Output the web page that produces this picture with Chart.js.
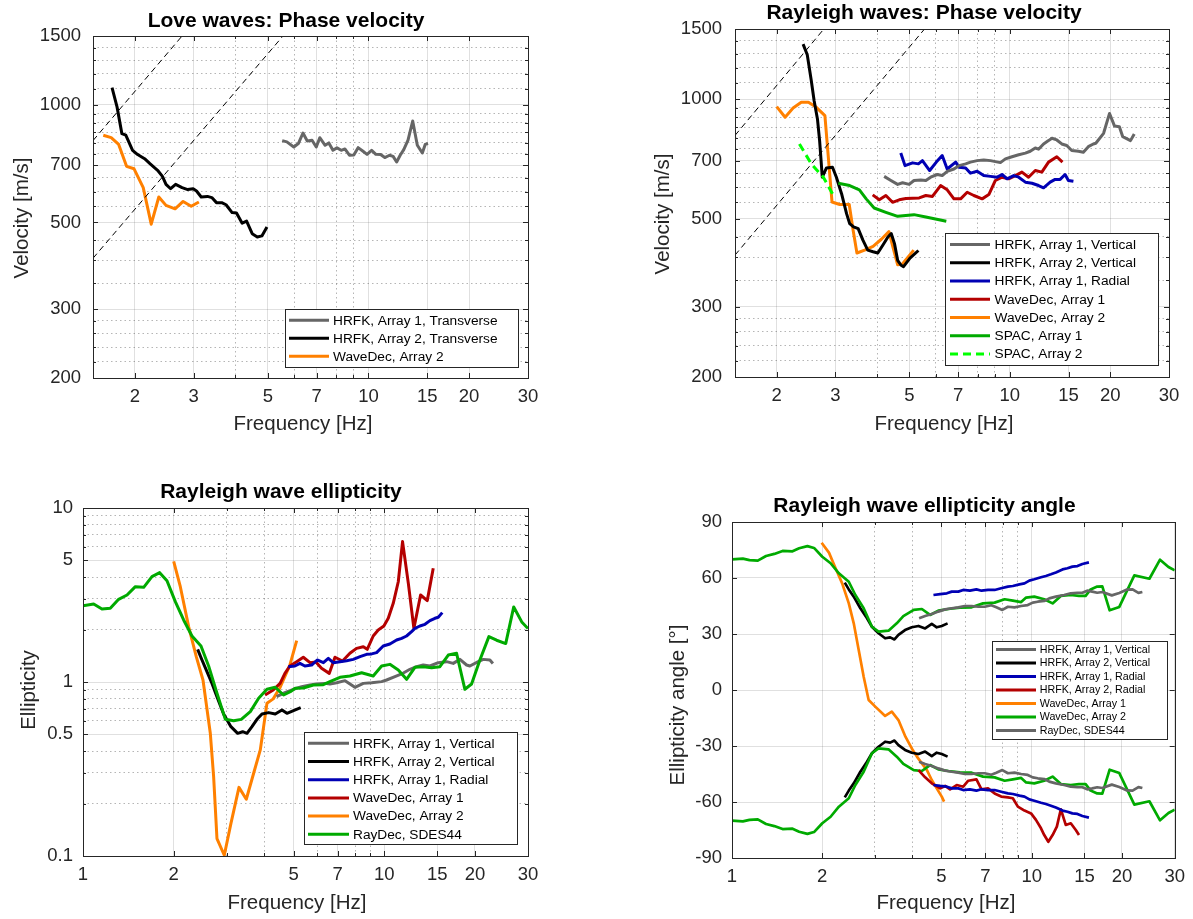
<!DOCTYPE html>
<html>
<head>
<meta charset="utf-8">
<title>Dispersion curves and ellipticity</title>
<script src="https://cdn.jsdelivr.net/npm/chart.js@4.4.1/dist/chart.umd.min.js"></script>
<style>
  html, body { margin: 0; padding: 0; background: #fff; }
  #page { position: relative; width: 1193px; height: 919px; overflow: hidden; background: #fff; }
  #page canvas { position: absolute; }
</style>
</head>
<body>
<div id="page"></div>
<script>
// ---- DATA ----

// Axis ticks
const freqTicksA = [2, 3, 5, 7, 10, 15, 20, 30];
const freqMinorA = [4, 6, 8, 9];
const freqTicksB = [1, 2, 5, 7, 10, 15, 20, 30];
const freqMinorB = [3, 4, 6, 8, 9];
const velTicks = [200, 300, 500, 700, 1000, 1500];
const velMinor = [220, 240, 260, 280, 350, 400, 450, 550, 600, 650, 750, 800, 850, 900, 950, 1100, 1200, 1300, 1400];
const ellTicks = [0.1, 0.5, 1, 5, 10];
const ellMinor = [0.2, 0.3, 0.4, 0.6, 0.7, 0.8, 0.9, 2, 3, 4, 6, 7, 8, 9];
const angTicks = [-90, -60, -30, 0, 30, 60, 90];

// Array resolution limits (dashed guide lines)
const guideAF = [1.5, 2.77];
const guideAV = [810, 1500];
const guideBF = [1.5, 5.55];
const guideBV = [405, 1500];

// Love waves: phase velocity
const loveHrfk1F = [5.52, 5.70, 5.98, 6.17, 6.37, 6.56, 6.78, 6.98, 7.15, 7.42, 7.61, 7.83, 8.05, 8.29, 8.50, 8.77, 9.04, 9.31, 9.61, 9.90, 10.22, 10.52, 10.87, 11.19, 11.56, 11.85, 12.14, 12.44, 12.75, 13.13, 13.56, 14.00, 14.49, 14.78, 15.07];
const loveHrfk1V = [810, 804, 780, 796, 847, 808, 812, 780, 824, 788, 799, 765, 776, 765, 771, 743, 744, 777, 762, 747, 765, 747, 746, 733, 743, 738, 714, 743, 768, 812, 909, 788, 753, 792, 796];
const loveHrfk2F = [1.71, 1.77, 1.83, 1.88, 1.97, 2.04, 2.14, 2.22, 2.34, 2.42, 2.48, 2.56, 2.65, 2.77, 2.88, 2.99, 3.06, 3.16, 3.30, 3.40, 3.51, 3.64, 3.75, 3.91, 4.03, 4.19, 4.32, 4.49, 4.65, 4.80, 4.97];
const loveHrfk2V = [1107, 988, 844, 836, 765, 746, 728, 707, 680, 656, 626, 610, 626, 614, 607, 610, 602, 581, 583, 579, 562, 562, 555, 530, 529, 498, 504, 468, 459, 462, 487];
const loveWdec2F = [1.61, 1.70, 1.79, 1.89, 1.99, 2.12, 2.24, 2.36, 2.48, 2.64, 2.79, 2.95, 3.11];
const loveWdec2V = [836, 824, 792, 696, 686, 614, 495, 581, 553, 542, 566, 550, 564];
const loveLegend = ['HRFK, Array 1, Transverse', 'HRFK, Array 2, Transverse', 'WaveDec, Array 2'];

// Rayleigh waves: phase velocity
const rayHrfk1VertF = [4.20, 4.40, 4.61, 4.77, 4.99, 5.16, 5.41, 5.60, 5.79, 6.06, 6.27, 6.49, 6.80, 7.04, 7.37, 7.62, 7.98, 8.35, 8.75, 9.05, 9.37, 9.70, 10.15, 10.63, 11.13, 11.51, 11.92, 12.19, 12.62, 13.06, 13.37, 13.83, 14.31, 14.81, 15.33, 16.05, 16.61, 17.19, 17.79, 18.1, 19.1, 19.9, 20.6, 21.3, 21.8, 23.0, 23.6];
const rayHrfk1VertV = [639, 624, 610, 616, 610, 624, 626, 624, 636, 646, 642, 658, 667, 680, 687, 694, 700, 703, 700, 696, 692, 707, 716, 724, 731, 739, 753, 748, 771, 786, 797, 789, 771, 764, 742, 739, 735, 759, 771, 774, 820, 920, 855, 852, 804, 786, 817];
const rayHrfk2VertF = [2.40, 2.47, 2.54, 2.59, 2.65, 2.69, 2.74, 2.82, 2.94, 3.02, 3.13, 3.24, 3.31, 3.40, 3.51, 3.63, 3.75, 3.89, 4.02, 4.16, 4.31, 4.41, 4.51, 4.61, 4.72, 4.80, 5.02, 5.32];
const rayHrfk2VertV = [1374, 1292, 1112, 990, 891, 786, 636, 671, 674, 636, 578, 515, 486, 477, 472, 441, 417, 413, 410, 429, 450, 459, 433, 393, 382, 379, 398, 416];
const rayHrfk1RadF = [4.71, 4.85, 5.11, 5.32, 5.47, 5.75, 6.02, 6.27, 6.49, 6.88, 7.04, 7.37, 7.62, 7.98, 8.35, 8.75, 9.16, 9.48, 9.81, 10.27, 10.63, 11.13, 11.65, 12.19, 12.62, 13.21, 13.67, 14.15, 14.64, 14.98, 15.51];
const rayHrfk1RadV = [732, 680, 691, 687, 700, 661, 694, 721, 667, 694, 674, 671, 651, 658, 642, 639, 636, 646, 630, 642, 636, 618, 614, 606, 598, 618, 628, 628, 646, 624, 621];
const rayWdec1F = [3.88, 4.06, 4.25, 4.45, 4.66, 4.88, 5.11, 5.35, 5.60, 5.86, 6.20, 6.49, 6.80, 7.12, 7.45, 7.80, 8.26, 8.65, 9.05, 9.48, 9.92, 10.39, 10.87, 11.38, 11.92, 12.47, 13.06, 13.83, 14.38];
const rayWdec1V = [574, 558, 572, 550, 558, 562, 563, 564, 572, 569, 606, 591, 561, 561, 583, 572, 561, 575, 624, 636, 630, 642, 655, 636, 661, 655, 694, 716, 694];
const rayWdec2F = [2.00, 2.12, 2.24, 2.37, 2.49, 2.63, 2.79, 2.93, 3.09, 3.30, 3.39, 3.48, 3.67, 3.89, 4.12, 4.34, 4.46, 4.61, 4.75, 5.15];
const rayWdec2V = [957, 900, 949, 981, 981, 953, 908, 551, 543, 543, 468, 410, 417, 426, 444, 464, 425, 383, 384, 417];
const raySpac1F = [3.06, 3.31, 3.54, 3.71, 3.92, 4.25, 4.61, 5.16, 5.60, 6.45];
const raySpac1V = [614, 606, 591, 561, 532, 519, 507, 512, 505, 493];
const raySpac2F = [2.34, 2.54, 2.76, 2.94];
const raySpac2V = [771, 687, 636, 578];
const rayLegend = ['HRFK, Array 1, Vertical', 'HRFK, Array 2, Vertical', 'HRFK, Array 1, Radial', 'WaveDec, Array 1', 'WaveDec, Array 2', 'SPAC, Array 1', 'SPAC, Array 2'];

// Rayleigh wave ellipticity
const ellHrfk1VertF = [4.39, 4.68, 4.99, 5.32, 5.67, 5.96, 6.36, 6.60, 6.95, 7.41, 7.99, 8.52, 9.08, 9.80, 10.18, 10.85, 11.42, 12.17, 12.80, 13.47, 14.18, 15.11, 16.10, 16.94, 17.83, 18.76, 19.24, 20.51, 21.31, 22.42, 22.94];
const ellHrfk1VertV = [0.823, 0.868, 0.908, 0.940, 0.961, 0.974, 0.982, 0.974, 0.991, 1.018, 0.932, 0.982, 0.991, 1.005, 1.027, 1.073, 1.112, 1.183, 1.225, 1.252, 1.236, 1.291, 1.309, 1.279, 1.349, 1.252, 1.236, 1.309, 1.349, 1.338, 1.279];
const ellHrfk2VertF = [2.402, 2.483, 2.579, 2.680, 2.784, 2.929, 3.098, 3.261, 3.388, 3.502, 3.638, 3.780, 3.927, 4.132, 4.347, 4.575, 4.753, 5.066, 5.28];
const ellHrfk2VertV = [1.541, 1.338, 1.147, 0.982, 0.823, 0.655, 0.554, 0.507, 0.518, 0.507, 0.554, 0.610, 0.655, 0.667, 0.655, 0.691, 0.661, 0.691, 0.712];
const ellHrfk1RadF = [4.80, 5.05, 5.25, 5.45, 5.74, 5.99, 6.28, 6.52, 6.77, 7.13, 7.50, 7.89, 8.31, 8.74, 9.08, 9.43, 9.92, 10.44, 10.99, 11.42, 11.86, 12.32, 12.64, 13.13, 13.65, 14.18, 14.73, 15.11, 15.58];
const ellHrfk1RadV = [1.225, 1.236, 1.279, 1.236, 1.252, 1.338, 1.291, 1.368, 1.291, 1.309, 1.326, 1.349, 1.398, 1.442, 1.45, 1.475, 1.61, 1.654, 1.743, 1.782, 1.838, 1.946, 2.034, 2.098, 2.145, 2.252, 2.323, 2.354, 2.505];
const ellWdec1F = [4.02, 4.28, 4.51, 4.68, 4.86, 5.12, 5.385, 5.67, 5.93, 6.19, 6.57, 6.86, 7.27, 7.69, 8.09, 8.52, 8.78, 9.19, 9.55, 9.97, 10.31, 10.71, 11.13, 11.50, 12.02, 12.54, 13.20, 13.89, 14.54];
const ellWdec1V = [0.842, 0.900, 0.982, 1.121, 1.236, 1.309, 1.387, 1.291, 1.303, 1.199, 1.121, 1.387, 1.320, 1.462, 1.561, 1.596, 1.541, 1.838, 1.99, 2.098, 2.323, 2.832, 3.77, 6.41, 3.69, 2.034, 3.162, 2.935, 4.50];
const ellWdec2F = [2.0, 2.104, 2.242, 2.377, 2.502, 2.646, 2.714, 2.784, 2.944, 3.098, 3.294, 3.484, 3.685, 3.877, 4.079, 4.28, 4.51, 4.86, 5.12];
const ellWdec2V = [4.94, 3.53, 2.08, 1.398, 1.027, 0.507, 0.286, 0.126, 0.101, 0.154, 0.248, 0.212, 0.299, 0.407, 0.754, 0.80, 0.93, 1.25, 1.728];
const ellRaydecF = [1.0, 1.085, 1.156, 1.232, 1.313, 1.400, 1.492, 1.590, 1.694, 1.797, 1.900, 2.025, 2.158, 2.300, 2.464, 2.612, 2.784, 2.968, 3.162, 3.353, 3.592, 3.828, 4.079, 4.347, 4.634, 4.876, 5.066, 5.385, 5.813, 6.275, 6.600, 7.127, 7.692, 8.41, 9.19, 9.80, 10.44, 11.13, 11.86, 12.64, 13.47, 14.36, 15.30, 16.31, 17.38, 18.52, 19.49, 20.77, 22.25, 23.6, 25.3, 26.9, 28.6, 30.0];
const ellRaydecV = [2.746, 2.807, 2.628, 2.652, 2.987, 3.162, 3.531, 3.50, 4.03, 4.25, 3.82, 2.895, 2.272, 1.838, 1.61, 1.236, 0.861, 0.610, 0.599, 0.610, 0.676, 0.806, 0.908, 0.932, 0.842, 0.880, 0.920, 0.924, 0.961, 0.965, 1.005, 1.064, 1.083, 1.131, 1.083, 1.236, 1.263, 1.172, 1.036, 1.214, 1.225, 1.209, 1.225, 1.428, 1.462, 0.908, 0.974, 1.338, 1.823, 1.738, 1.663, 2.70, 2.215, 2.028];
const ellLegend = ['HRFK, Array 1, Vertical', 'HRFK, Array 2, Vertical', 'HRFK, Array 1, Radial', 'WaveDec, Array 1', 'WaveDec, Array 2', 'RayDec, SDES44'];

// Rayleigh wave ellipticity angle (prograde and retrograde branches)
const angGreenF = [1.0, 1.087, 1.144, 1.219, 1.299, 1.384, 1.475, 1.592, 1.675, 1.785, 1.878, 2.001, 2.133, 2.273, 2.453, 2.580, 2.750, 2.930, 3.083, 3.328, 3.546, 3.730, 4.04, 4.30, 4.58, 4.88, 5.27, 5.76, 6.30, 6.88, 7.52, 8.12, 8.65, 9.22, 9.58, 10.20, 11.01, 11.74, 12.51, 13.50, 14.38, 15.13, 15.72, 16.54, 17.2, 18.2, 19.6, 22.0, 24.7, 26.8, 28.6, 30.0];
const angGreenUp = [70.0, 70.4, 69.6, 69.3, 71.8, 72.9, 74.5, 74.3, 75.9, 77.1, 76.1, 71.4, 67.9, 62.5, 58.0, 50.9, 43.8, 33.9, 31.3, 31.8, 35.7, 39.6, 42.9, 43.4, 40.2, 42.5, 43.4, 44.1, 44.3, 46.4, 46.8, 48.6, 47.9, 47.1, 49.5, 50.0, 48.6, 46.4, 50.4, 50.9, 50.4, 50.4, 53.9, 55.4, 55.5, 42.7, 44.5, 61.4, 59.6, 69.8, 65.9, 64.1];
const angGreenLo = [-70.0, -70.4, -69.6, -69.3, -71.8, -72.9, -74.5, -74.3, -75.9, -77.1, -76.1, -71.4, -67.9, -62.5, -58.0, -50.9, -43.8, -33.9, -31.3, -31.8, -35.7, -39.6, -42.9, -43.4, -40.2, -42.5, -43.4, -44.1, -44.3, -46.4, -46.8, -48.6, -47.9, -47.1, -49.5, -50.0, -48.6, -46.4, -50.4, -50.9, -50.4, -50.4, -53.9, -55.4, -55.5, -42.7, -44.5, -61.4, -59.6, -69.8, -65.9, -64.1];
const angBlackF = [2.378, 2.453, 2.548, 2.681, 2.80, 2.93, 3.083, 3.243, 3.371, 3.484, 3.592, 3.778, 3.98, 4.19, 4.41, 4.64, 4.82, 5.01, 5.24];
const angBlackUp = [57.5, 53.9, 50.0, 43.8, 39.3, 33.9, 30.4, 27.7, 28.2, 27.1, 29.5, 32.1, 33.6, 34.3, 33.0, 35.4, 33.6, 34.3, 35.7];
const angBlackLo = [-57.5, -53.9, -50.0, -43.8, -39.3, -33.9, -30.4, -27.7, -28.2, -27.1, -29.5, -32.1, -33.6, -34.3, -33.0, -35.4, -33.6, -34.3, -35.7];
const angGrayF = [4.21, 4.41, 4.64, 4.88, 5.14, 5.41, 5.69, 5.98, 6.30, 6.63, 6.97, 7.33, 7.62, 7.98, 8.33, 8.76, 9.22, 9.70, 10.08, 10.47, 11.01, 11.44, 12.04, 12.83, 13.50, 14.21, 14.76, 15.32, 15.92, 16.54, 17.2, 18.5, 19.6, 20.8, 21.7, 22.7, 23.4];
const angGrayUp = [38.4, 39.6, 40.7, 42.0, 43.2, 43.8, 44.3, 45.0, 45.0, 44.6, 44.6, 45.4, 44.3, 42.9, 44.6, 44.3, 45.0, 45.5, 46.8, 47.3, 47.7, 49.1, 50.0, 50.9, 51.8, 52.1, 52.1, 53.2, 52.7, 52.1, 52.5, 50.7, 52.0, 53.8, 53.9, 52.0, 52.5];
const angGrayLo = [-38.4, -39.6, -40.7, -42.0, -43.2, -43.8, -44.3, -45.0, -45.0, -44.6, -44.6, -45.4, -44.3, -42.9, -44.6, -44.3, -45.0, -45.5, -46.8, -47.3, -47.7, -49.1, -50.0, -50.9, -51.8, -52.1, -52.1, -53.2, -52.7, -52.1, -52.5, -50.7, -52.0, -53.8, -53.9, -52.0, -52.5];
const angBlueF = [4.70, 4.95, 5.21, 5.41, 5.69, 5.91, 6.22, 6.54, 6.80, 7.15, 7.52, 7.91, 8.33, 8.65, 9.10, 9.46, 9.82, 10.20, 10.74, 11.15, 11.59, 12.04, 12.67, 13.16, 13.67, 14.21, 14.76, 15.52];
const angBlueUp = [50.9, 51.4, 51.8, 52.7, 52.7, 53.6, 53.2, 53.9, 53.2, 53.6, 53.6, 54.5, 55.4, 55.7, 56.6, 57.1, 58.6, 59.3, 60.4, 61.1, 62.0, 63.0, 64.6, 65.2, 66.1, 66.4, 67.5, 68.4];
const angBlueLo = [-50.9, -51.4, -51.8, -52.7, -52.7, -53.6, -53.2, -53.9, -53.2, -53.6, -53.6, -54.5, -55.4, -55.7, -56.6, -57.1, -58.6, -59.3, -60.4, -61.1, -62.0, -63.0, -64.6, -65.2, -66.1, -66.4, -67.5, -68.4];
const angRedF = [4.19, 4.41, 4.64, 4.95, 5.14, 5.34, 5.62, 5.91, 6.14, 6.54, 6.80, 7.15, 7.52, 7.91, 8.33, 8.65, 8.99, 9.46, 9.95, 10.33, 10.74, 11.01, 11.36, 11.74, 12.13, 12.51, 12.99, 13.50, 14.03, 14.38];
const angRedV = [-42.9, -46.8, -50.0, -52.7, -51.4, -53.2, -50.9, -51.8, -48.6, -47.9, -53.2, -52.7, -55.4, -57.1, -57.5, -58.0, -62.5, -64.6, -66.1, -69.6, -74.1, -77.7, -81.3, -77.7, -73.2, -63.9, -72.3, -71.4, -75.0, -77.7];
const angOrangeF = [1.991, 2.106, 2.216, 2.331, 2.453, 2.548, 2.647, 2.750, 2.857, 3.006, 3.243, 3.413, 3.592, 3.79, 3.98, 4.14, 4.30, 4.47, 4.64, 4.82, 5.01, 5.10];
const angOrangeV = [78.9, 73.6, 65.2, 57.1, 46.4, 35.7, 21.4, 7.1, -5.4, -8.9, -13.9, -11.6, -16.1, -25.0, -31.3, -35.7, -39.3, -42.9, -48.2, -52.7, -57.1, -59.8];
const angLegend = ['HRFK, Array 1, Vertical', 'HRFK, Array 2, Vertical', 'HRFK, Array 1, Radial', 'HRFK, Array 2, Radial', 'WaveDec, Array 1', 'WaveDec, Array 2', 'RayDec, SDES44'];

// ---- STYLE ----
const COL = { gray: '#666666', black: '#000000', blue: '#0000b4', red: '#b40000', orange: '#ff8000', green: '#00aa00', lime: '#00ff00' };
const FONT = '"Liberation Sans", Arial, Helvetica, sans-serif';
const TICK_COLOR = '#262626';
const MAJ_GRID = 'rgba(38,38,38,0.14)';
const MIN_GRID = 'rgba(38,38,38,0.34)';

function logAxis(min, max, major, minor, pad) {
  const all = [...new Set(major.concat(minor))].sort((a, b) => a - b);
  return {
    type: 'logarithmic', min, max,
    afterBuildTicks: s => { s.ticks = all.map(v => ({ value: v, major: major.includes(v) })); },
    ticks: {
      autoSkip: false, maxRotation: 0, minRotation: 0, padding: pad, color: TICK_COLOR,
      font: { family: FONT, size: 18.5 },
      callback: v => (major.includes(v) ? String(v) : '')
    },
    grid: { drawTicks: false, lineWidth: 1, color: c => (c.tick && c.tick.major ? MAJ_GRID : MIN_GRID) },
    border: { display: false, dash: c => (c.tick && c.tick.major ? [] : [1.5, 3]) }
  };
}

function linAxis(min, max, ticks, pad) {
  return {
    type: 'linear', min, max,
    afterBuildTicks: s => { s.ticks = ticks.map(v => ({ value: v, major: true })); },
    ticks: { autoSkip: false, padding: pad, color: TICK_COLOR, font: { family: FONT, size: 18.5 }, callback: v => String(v) },
    grid: { drawTicks: false, lineWidth: 1, color: MAJ_GRID },
    border: { display: false }
  };
}

function line(xs, ys, color, width, dash) {
  return {
    data: xs.map((x, i) => ({ x, y: ys[i] })),
    borderColor: color, backgroundColor: color, borderWidth: width,
    borderDash: dash || [], borderJoinStyle: 'round', pointRadius: 0, tension: 0, fill: false
  };
}

// frame, inner tick marks, titles and the boxed legend
function makeDecor(box, texts, legend) {
  return {
    id: 'decor',
    afterDatasetsDraw(chart) {
      const { ctx, chartArea: a, scales } = chart;
      ctx.save();
      ctx.strokeStyle = '#262626';
      ctx.lineWidth = 1;
      ctx.setLineDash([]);
      ctx.beginPath();
      scales.x.ticks.forEach(t => {
        const p = Math.round(scales.x.getPixelForValue(t.value)) + 0.5;
        const L = t.major === false ? 3 : 5;
        ctx.moveTo(p, a.bottom); ctx.lineTo(p, a.bottom - L);
        ctx.moveTo(p, a.top); ctx.lineTo(p, a.top + L);
      });
      scales.y.ticks.forEach(t => {
        const p = Math.round(scales.y.getPixelForValue(t.value)) + 0.5;
        const L = t.major === false ? 3 : 5;
        ctx.moveTo(a.left, p); ctx.lineTo(a.left + L, p);
        ctx.moveTo(a.right, p); ctx.lineTo(a.right - L, p);
      });
      ctx.stroke();
      ctx.strokeRect(Math.round(a.left) + 0.5, Math.round(a.top) + 0.5, Math.round(a.width), Math.round(a.height));
      ctx.restore();
    },
    afterDraw(chart) {
      const ctx = chart.ctx;
      ctx.save();
      texts.forEach(t => {
        ctx.save();
        ctx.font = t.font;
        ctx.fillStyle = t.color || '#000';
        ctx.textAlign = 'center';
        ctx.textBaseline = 'alphabetic';
        ctx.translate(t.x - box.x, t.y - box.y);
        if (t.rot) ctx.rotate(-Math.PI / 2);
        ctx.fillText(t.text, 0, 0);
        ctx.restore();
      });
      const L = legend;
      ctx.fillStyle = '#fff';
      ctx.fillRect(L.x - box.x, L.y - box.y, L.w, L.h);
      ctx.strokeStyle = '#262626';
      ctx.lineWidth = 1;
      ctx.strokeRect(L.x - box.x + 0.5, L.y - box.y + 0.5, L.w, L.h);
      ctx.font = L.font;
      ctx.textAlign = 'left';
      ctx.textBaseline = 'middle';
      L.labels.forEach((lab, i) => {
        const y = L.row0 + i * L.step - box.y;
        ctx.strokeStyle = L.colors[i];
        ctx.lineWidth = L.lw;
        ctx.setLineDash(L.dashes && L.dashes[i] ? L.dashes[i] : []);
        ctx.beginPath();
        ctx.moveTo(L.sx0 - box.x, y);
        ctx.lineTo(L.sx1 - box.x, y);
        ctx.stroke();
        ctx.setLineDash([]);
        ctx.fillStyle = '#000';
        ctx.fillText(lab, L.tx - box.x, y + 0.5);
      });
      ctx.restore();
    }
  };
}

function panel(box, plot, xAxis, yAxis, datasets, texts, legend) {
  const cv = document.createElement('canvas');
  cv.width = box.w; cv.height = box.h;
  cv.style.left = box.x + 'px'; cv.style.top = box.y + 'px';
  document.getElementById('page').appendChild(cv);
  xAxis.afterFit = s => { s.height = box.y + box.h - plot.b; };
  yAxis.afterFit = s => { s.width = plot.l - box.x; };
  return new Chart(cv, {
    type: 'line',
    data: { datasets },
    options: {
      responsive: false, animation: false, events: [],
      layout: { padding: { left: 0, bottom: 0, top: plot.t - box.y, right: box.x + box.w - plot.r } },
      scales: { x: xAxis, y: yAxis },
      plugins: { legend: { display: false }, tooltip: { enabled: false }, title: { display: false } }
    },
    plugins: [makeDecor(box, texts, legend)]
  });
}

const TITLE_FONT = 'bold 21px ' + FONT;
const LABEL_FONT = '20.5px ' + FONT;
const LW = 3;

// ---- Panel 1: Love waves ----
panel({ x: 0, y: 0, w: 596, h: 460 }, { l: 93, t: 36, r: 528, b: 378 },
  logAxis(1.5, 30, freqTicksA, freqMinorA, 8),
  logAxis(200, 1500, velTicks, velMinor, 12),
  [
    line(guideAF, guideAV, '#000', 1, [6, 4]),
    line(guideBF, guideBV, '#000', 1, [6, 4]),
    line(loveHrfk1F, loveHrfk1V, COL.gray, LW),
    line(loveHrfk2F, loveHrfk2V, COL.black, LW),
    line(loveWdec2F, loveWdec2V, COL.orange, LW)
  ],
  [
    { text: 'Love waves: Phase velocity', x: 286, y: 27, font: TITLE_FONT },
    { text: 'Frequency [Hz]', x: 303, y: 430, font: LABEL_FONT, color: TICK_COLOR },
    { text: 'Velocity [m/s]', x: 28, y: 218, font: LABEL_FONT, color: TICK_COLOR, rot: true }
  ],
  { x: 285, y: 309, w: 233, h: 58, row0: 320.3, step: 18, sx0: 289, sx1: 329, tx: 333, lw: 3,
    font: '13.7px ' + FONT, labels: loveLegend, colors: [COL.gray, COL.black, COL.orange] }
);

// ---- Panel 2: Rayleigh waves ----
panel({ x: 596, y: 0, w: 597, h: 460 }, { l: 735, t: 29, r: 1169, b: 377 },
  logAxis(1.5, 30, freqTicksA, freqMinorA, 8),
  logAxis(200, 1500, velTicks, velMinor, 13),
  [
    line(guideAF, guideAV, '#000', 1, [6, 4]),
    line(guideBF, guideBV, '#000', 1, [6, 4]),
    line(rayHrfk1VertF, rayHrfk1VertV, COL.gray, LW),
    line(rayHrfk1RadF, rayHrfk1RadV, COL.blue, LW),
    line(rayWdec1F, rayWdec1V, COL.red, LW),
    line(raySpac1F, raySpac1V, COL.green, LW),
    line(raySpac2F, raySpac2V, COL.lime, LW, [8, 5]),
    line(rayHrfk2VertF, rayHrfk2VertV, COL.black, LW),
    line(rayWdec2F, rayWdec2V, COL.orange, LW)
  ],
  [
    { text: 'Rayleigh waves: Phase velocity', x: 924, y: 19, font: TITLE_FONT },
    { text: 'Frequency [Hz]', x: 944, y: 430, font: LABEL_FONT, color: TICK_COLOR },
    { text: 'Velocity [m/s]', x: 669, y: 214, font: LABEL_FONT, color: TICK_COLOR, rot: true }
  ],
  { x: 945, y: 233, w: 213, h: 132, row0: 244.5, step: 18.25, sx0: 950, sx1: 990, tx: 994.5, lw: 3,
    font: '13.7px ' + FONT, labels: rayLegend,
    colors: [COL.gray, COL.black, COL.blue, COL.red, COL.orange, COL.green, COL.lime],
    dashes: [null, null, null, null, null, null, [8, 5]] }
);

// ---- Panel 3: ellipticity ----
panel({ x: 0, y: 460, w: 596, h: 459 }, { l: 83, t: 508, r: 528, b: 856 },
  logAxis(1, 30, freqTicksB, freqMinorB, 8),
  logAxis(0.1, 10, ellTicks, ellMinor, 10),
  [
    line(ellRaydecF, ellRaydecV, COL.green, LW),
    line(ellHrfk1VertF, ellHrfk1VertV, COL.gray, LW),
    line(ellHrfk1RadF, ellHrfk1RadV, COL.blue, LW),
    line(ellWdec1F, ellWdec1V, COL.red, LW),
    line(ellHrfk2VertF, ellHrfk2VertV, COL.black, LW),
    line(ellWdec2F, ellWdec2V, COL.orange, LW)
  ],
  [
    { text: 'Rayleigh wave ellipticity', x: 281, y: 498, font: TITLE_FONT },
    { text: 'Frequency [Hz]', x: 297, y: 909, font: LABEL_FONT, color: TICK_COLOR },
    { text: 'Ellipticity', x: 35, y: 690, font: LABEL_FONT, color: TICK_COLOR, rot: true }
  ],
  { x: 304, y: 732, w: 213, h: 112, row0: 743.3, step: 18.2, sx0: 308, sx1: 349, tx: 353, lw: 3,
    font: '13.7px ' + FONT, labels: ellLegend,
    colors: [COL.gray, COL.black, COL.blue, COL.red, COL.orange, COL.green] }
);

// ---- Panel 4: ellipticity angle ----
const LW4 = 2.7;
panel({ x: 596, y: 460, w: 597, h: 459 }, { l: 732, t: 522, r: 1178, b: 858 },
  logAxis(1, 30, freqTicksB, freqMinorB, 8),
  linAxis(-90, 90, angTicks, 10),
  [
    line(angGrayF, angGrayUp, COL.gray, LW4),
    line(angGrayF, angGrayLo, COL.gray, LW4),
    line(angBlueF, angBlueUp, COL.blue, LW4),
    line(angBlueF, angBlueLo, COL.blue, LW4),
    line(angRedF, angRedV, COL.red, LW4),
    line(angGreenF, angGreenUp, COL.green, LW4),
    line(angGreenF, angGreenLo, COL.green, LW4),
    line(angBlackF, angBlackUp, COL.black, LW4),
    line(angBlackF, angBlackLo, COL.black, LW4),
    line(angOrangeF, angOrangeV, COL.orange, LW4)
  ],
  [
    { text: 'Rayleigh wave ellipticity angle', x: 924.5, y: 512, font: TITLE_FONT },
    { text: 'Frequency [Hz]', x: 946, y: 909, font: LABEL_FONT, color: TICK_COLOR },
    { text: 'Ellipticity angle [°]', x: 684, y: 705, font: LABEL_FONT, color: TICK_COLOR, rot: true }
  ],
  { x: 992, y: 641, w: 175, h: 98, row0: 649.5, step: 13.5, sx0: 996, sx1: 1036, tx: 1039.7, lw: 2.8,
    font: '10.7px ' + FONT, labels: angLegend,
    colors: [COL.gray, COL.black, COL.blue, COL.red, COL.orange, COL.green, COL.gray] }
);
</script>
</body>
</html>
